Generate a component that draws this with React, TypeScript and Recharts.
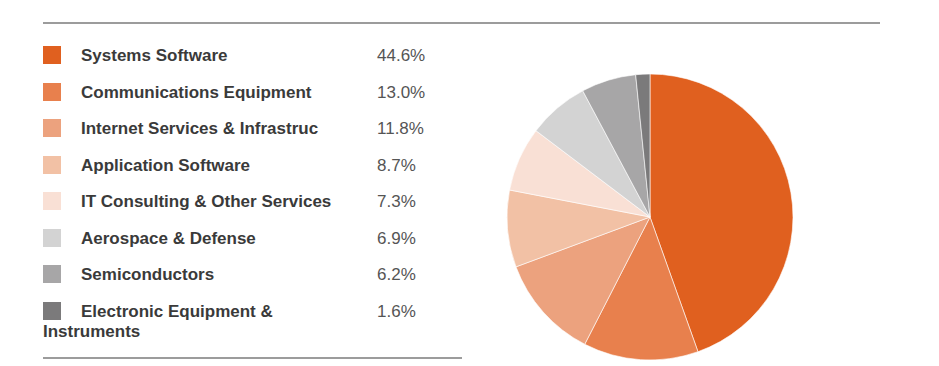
import {PieChart, Pie, Cell} from 'recharts';

const SECTORS = [
    'Systems Software',
    'Communications Equipment',
    'Internet Services & Infrastruc',
    'Application Software',
    'IT Consulting & Other Services',
    'Aerospace & Defense',
    'Semiconductors',
    'Electronic Equipment & Instruments',
];
const WEIGHTS = [44.6, 13.0, 11.8, 8.7, 7.3, 6.9, 6.2, 1.6];
const COLORS = ['#e0601f', '#e8804d', '#eca27e', '#f2c1a5', '#f9e0d5', '#d3d3d3', '#a7a6a7', '#7b7a7b'];

const data = SECTORS.map((name, i) => ({name, value: WEIGHTS[i]}));

const LegendList = () => (
    <div style={{position: 'absolute', left: 43, top: 46, width: 420}}>
        {data.map((d, i) => (
            <div key={d.name} style={{position: 'relative', height: 36.5, width: 300}}>
                <div style={{lineHeight: '20px'}}>
                    <span style={{
                        display: 'inline-block', width: 18, height: 18, background: COLORS[i],
                        verticalAlign: 'top', marginRight: 20
                    }}/>
                    <span style={{fontWeight: 700, color: '#3a3a3a'}}>{d.name}</span>
                </div>
                <span style={{position: 'absolute', left: 334, top: 0, lineHeight: '20px', color: '#555'}}>
                    {d.value.toFixed(1)}%
                </span>
            </div>
        ))}
    </div>
);

export default function App() {
    return (
        <div style={{position: 'absolute', left: 0, top: 0, width: 939, height: 366, background: '#fff',
            fontFamily: 'Arial, "Liberation Sans", sans-serif', fontSize: 17}}>
            <div style={{position: 'absolute', left: 43, top: 22, width: 837, borderTop: '2px solid #9c9c9c'}}/>
            <div style={{position: 'absolute', left: 43, top: 357, width: 419, borderTop: '2px solid #9c9c9c'}}/>
            <LegendList/>
            <div style={{position: 'absolute', left: 0, top: 0}}>
                <PieChart width={939} height={366} margin={{top: 0, right: 0, bottom: 0, left: 0}}>
                    <Pie
                        data={data}
                        dataKey='value'
                        cx={650}
                        cy={217}
                        outerRadius={143}
                        startAngle={90}
                        endAngle={-270}
                        stroke='#ffffff'
                        strokeWidth={0.6}
                        isAnimationActive={false}
                    >
                        {data.map((_, index) => (
                            <Cell key={`cell-${index}`} fill={COLORS[index]}/>
                        ))}
                    </Pie>
                </PieChart>
            </div>
        </div>
    );
}
